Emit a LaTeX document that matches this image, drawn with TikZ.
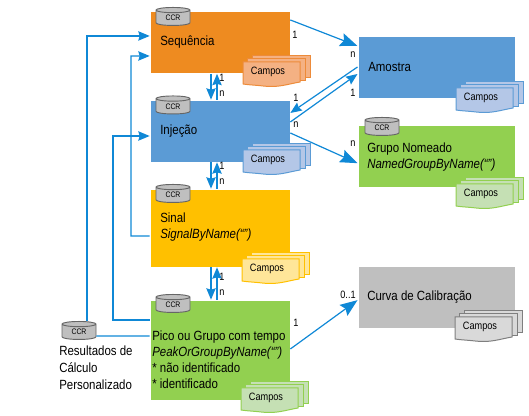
\documentclass[tikz,border=0pt]{standalone}
\usepackage{fontspec}
\setmainfont[FakeStretch=0.86]{Liberation Sans}
\usetikzlibrary{arrows.meta,shapes.geometric}

\definecolor{lineblue}{HTML}{0F88D6}
\definecolor{seqorange}{HTML}{EE8B20}
\definecolor{seqfill}{HTML}{F4B183}
\definecolor{seqline}{HTML}{ED8B3A}
\definecolor{injblue}{HTML}{5B9BD5}
\definecolor{injfill}{HTML}{B4C7E7}
\definecolor{injline}{HTML}{5B9BD5}
\definecolor{sinyellow}{HTML}{FFC000}
\definecolor{sinfill}{HTML}{FFE699}
\definecolor{picgreen}{HTML}{92D050}
\definecolor{picfill}{HTML}{C5E0B4}
\definecolor{curgray}{HTML}{BFBFBF}
\definecolor{curfill}{HTML}{D9D9D9}
\definecolor{curline}{HTML}{7F7F7F}

\tikzset{
  entity/.style={minimum width=105pt,inner sep=0pt,draw=white,line width=0.5pt},
  txt/.style={anchor=west,inner sep=0pt,align=left,font=\fontsize{10}{12}\selectfont},
  card/.style={inner sep=0pt,font=\fontsize{8}{9}\selectfont},
  ccr/.style={shape=cylinder,shape border rotate=90,aspect=0.35,draw=black!60,fill=curgray,
    line width=0.7pt,minimum width=25.5pt,minimum height=13.5pt,inner sep=0pt,
    font=\fontsize{6}{6}\selectfont},
  link/.style={draw=lineblue,line width=0.9pt},
  arr/.style={link,-{Stealth[length=8.5pt,width=7pt,inset=1pt]}},
  bigarr/.style={link,-{Stealth[length=13pt,width=10pt,inset=2pt]}},
}

% nome, x, y, preenchimento, linha
\newcommand{\camposstack}[5]{
  \begin{scope}[shift={(#2,#3)},draw=#5,fill=#4,line width=0.75pt]
    \filldraw (9,-6) rectangle (67,16);
    \filldraw (4,-3) rectangle (62,19);
    \filldraw (0,0) -- (57,0) -- (57,20) .. controls (45,22) and (35,26) .. (20,24) .. controls (12,23) and (6,23) .. (0,22) -- cycle;
    \node[card] (#1) at (25,10) {Campos};
  \end{scope}
}

\begin{document}
\begin{tikzpicture}[x=0.75pt,y=-0.75pt]
  \useasboundingbox (0,0) rectangle (529,416);

  % Caixas
  \node[entity,fill=seqorange,minimum height=46.5pt] (seq) at (220,42.5) {};
  \node[entity,fill=injblue,minimum height=46.5pt] (inj) at (220,131) {};
  \node[entity,fill=sinyellow,minimum height=58.5pt] (sin) at (220,228) {};
  \node[entity,fill=picgreen,minimum height=75pt] (pic) at (220,350) {};
  \node[entity,fill=injblue,minimum width=118pt,minimum height=46.5pt] (amo) at (436.5,67) {};
  \node[entity,fill=picgreen,minimum width=118pt,minimum height=46.5pt] (gru) at (436.5,156.5) {};
  \node[entity,fill=curgray,minimum width=118pt,minimum height=46.5pt] (cur) at (436.5,297.5) {};

  % CCR
  \node[ccr] (ccrseq) at (173,18) {CCR};
  \node[ccr] (ccrinj) at (173,106.5) {CCR};
  \node[ccr] (ccrsin) at (173,195) {CCR};
  \node[ccr] (ccrpic) at (173,305) {CCR};
  \node[ccr] (ccrgru) at (382,128) {CCR};
  \node[ccr] (ccrres) at (79,332) {CCR};

  % Textos
  \node[txt] (tseq) at (160,42) {Sequência};
  \node[txt] (tinj) at (160,131) {Injeção};
  \node[txt] (tsin) at (160,227) {Sinal\\\textit{SignalByName(“”)}};
  \node[txt] (tpic) at (152,360) {Pico ou Grupo com tempo\\\textit{PeakOrGroupByName(“”)}\\* não identificado\\* identificado};
  \node[txt] (tamo) at (368,67) {Amostra};
  \node[txt] (tgru) at (367,157) {Grupo Nomeado\\\textit{NamedGroupByName(“”)}};
  \node[txt] (tcur) at (367,297) {Curva de Calibração};
  \node[txt,font=\fontsize{10}{12.75}\selectfont] (tres) at (59,368) {Resultados de\\Cálculo\\Personalizado};

  % Campos
  \camposstack{cseq}{243}{62}{seqfill}{seqline}
  \camposstack{cinj}{243}{150}{injfill}{injline}
  \camposstack{csin}{242}{259}{sinfill}{sinyellow}
  \camposstack{cpic}{241}{388}{picfill}{picgreen}
  \camposstack{camo}{456}{88}{injfill}{injline}
  \camposstack{cgru}{456}{184}{picfill}{picgreen}
  \camposstack{ccur}{455}{317}{curfill}{curline}

  % Ligacoes verticais
  \draw[arr] ([xshift=-6.75pt]seq.south) -- ([xshift=-6.75pt]inj.north);
  \draw[arr] ([xshift=-2.25pt]inj.north) -- ([xshift=-2.25pt]seq.south);
  \draw[arr] ([xshift=-6.75pt]inj.south) -- ([xshift=-6.75pt]sin.north);
  \draw[arr] ([xshift=-2.25pt]sin.north) -- ([xshift=-2.25pt]inj.south);
  \draw[arr] ([xshift=-6.75pt]sin.south) -- ([xshift=-6.75pt]pic.north);
  \draw[arr] ([xshift=-2.25pt]pic.north) -- ([xshift=-2.25pt]sin.south);

  % Ligacoes inclinadas
  \draw[bigarr] ([yshift=16.9pt]seq.east) -- ([yshift=15.75pt]amo.west);
  \draw[arr] (amo.west) -- ([yshift=13.5pt]inj.east);
  \draw[arr] ([yshift=6.75pt]inj.east) -- ([yshift=-5.25pt]amo.west);
  \draw[bigarr] ([yshift=-1.5pt]inj.east) -- ([yshift=-5pt]gru.west);
  \draw[bigarr] ([yshift=0.75pt]pic.east) -- ([yshift=-2pt]cur.west);

  % Ligacoes a esquerda
  \draw[arr] ([xshift=6pt]ccrres.top) |- ([yshift=4.9pt]seq.west);
  \draw[arr] ([yshift=-6pt]sin.west) -| (131,56) -- ([yshift=-10.1pt]seq.west);
  \draw[arr] ([yshift=22.5pt]pic.west) -| (113,136) -- ([yshift=-3.75pt]inj.west);
  \draw[link] ([yshift=-3pt]ccrres.east) -- ([yshift=10.5pt]pic.west);

  % Cardinalidades
  \node[card] (l1) at (295,35) {1};
  \node[card] (l2) at (353,55) {n};
  \node[card] (l3) at (222,78) {1};
  \node[card] (l4) at (222,94) {n};
  \node[card] (l5) at (296,98) {1};
  \node[card] (l6) at (296,125) {n};
  \node[card] (l7) at (353,93) {1};
  \node[card] (l8) at (353,144) {n};
  \node[card] (l9) at (222,166) {1};
  \node[card] (l10) at (222,182) {n};
  \node[card] (l11) at (222,277) {1};
  \node[card] (l12) at (222,293) {n};
  \node[card] (l13) at (296,323) {1};
  \node[card] (l14) at (348,295) {0..1};
\end{tikzpicture}
\end{document}
